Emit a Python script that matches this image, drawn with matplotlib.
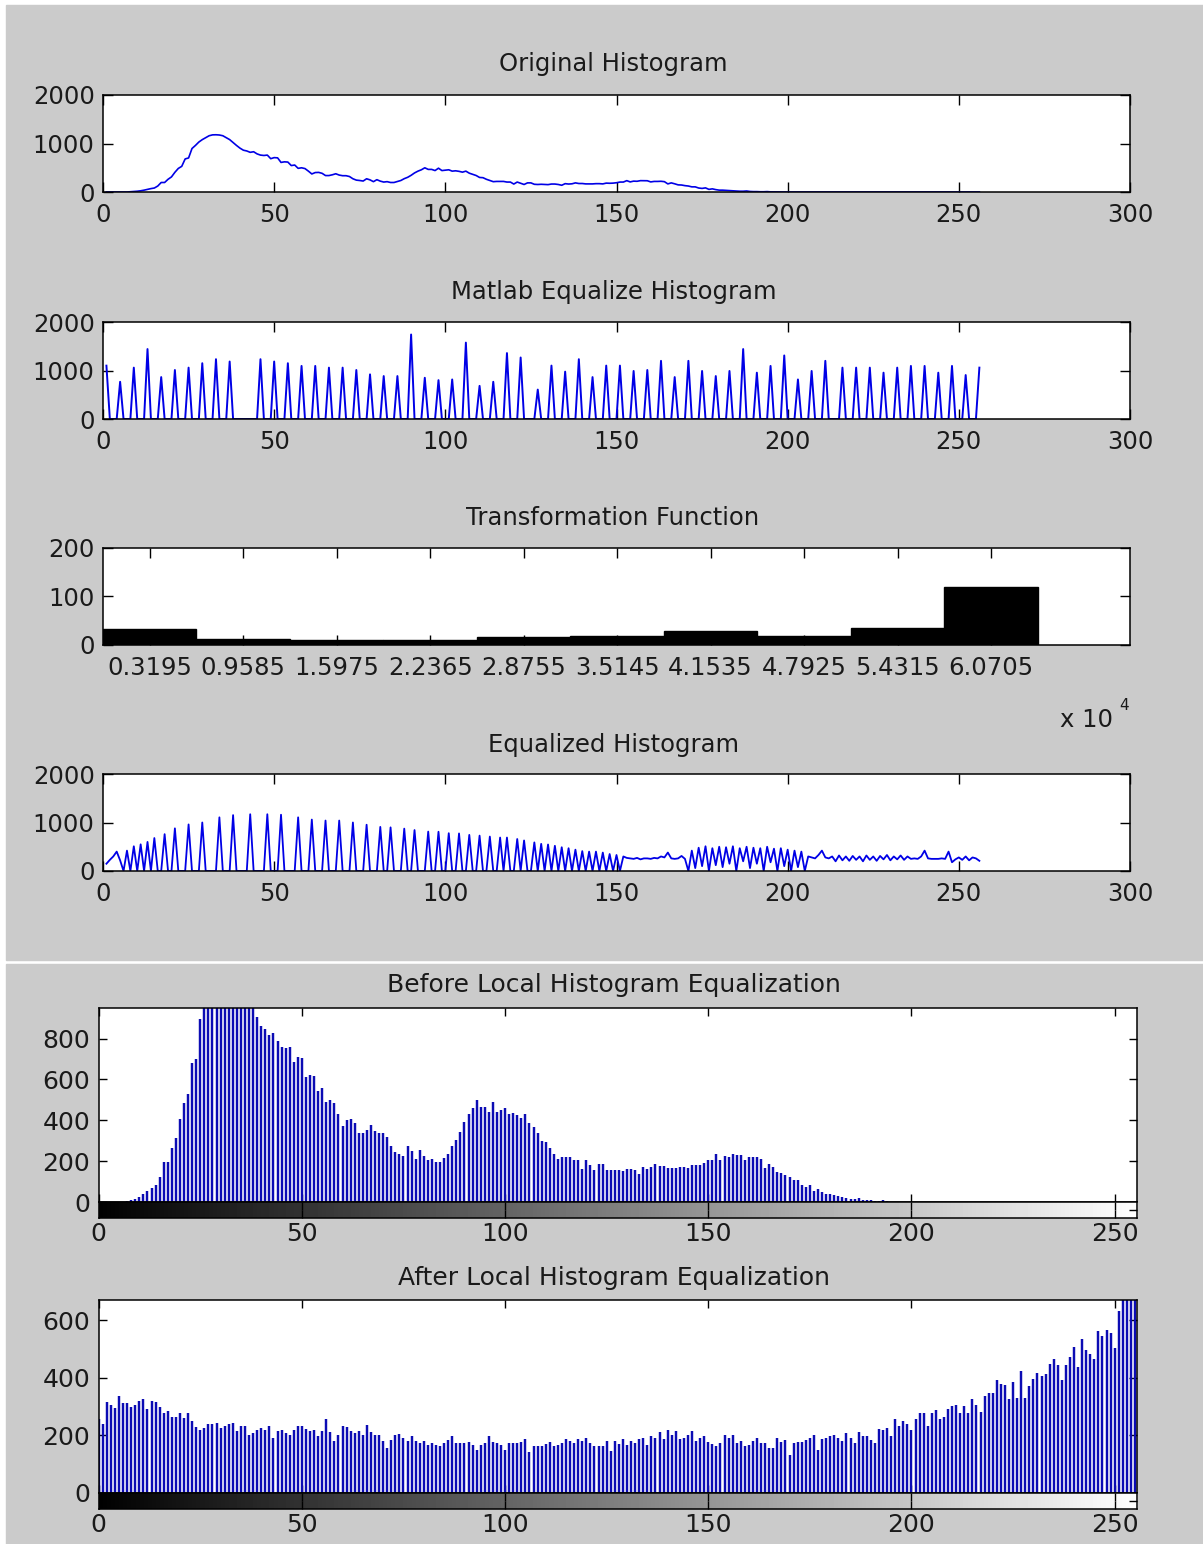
import numpy as np
import matplotlib.pyplot as plt
from matplotlib.patches import Rectangle

W, H = 1203, 1544
plt.rcParams['font.family'] = ['DejaVu Sans']

# counts per gray level 0..255 of the input image
orig_counts = [
    0, 0, 0, 0, 0, 0, 0, 5,
    11, 16, 25, 38, 54, 70, 82, 123,
    196, 196, 262, 311, 406, 486, 529, 682,
    702, 897, 960, 1030, 1080, 1120, 1160, 1178,
    1180, 1175, 1160, 1120, 1080, 1020, 960, 905,
    862, 846, 818, 830, 786, 761, 753, 761,
    687, 709, 704, 610, 622, 617, 545, 556,
    488, 499, 483, 430, 372, 401, 404, 385,
    339, 339, 355, 376, 349, 336, 336, 319,
    273, 245, 237, 226, 273, 250, 213, 254,
    224, 205, 213, 196, 196, 216, 237, 275,
    303, 344, 393, 430, 458, 499, 466, 466,
    442, 491, 442, 450, 458, 430, 437, 426,
    409, 430, 388, 365, 340, 300, 295, 262,
    237, 213, 218, 218, 218, 205, 205, 164,
    205, 180, 155, 188, 188, 159, 155, 159,
    155, 152, 164, 164, 155, 139, 172, 164,
    169, 188, 175, 175, 167, 167, 167, 172,
    172, 167, 183, 180, 183, 191, 205, 205,
    234, 208, 224, 221, 234, 232, 232, 208,
    218, 218, 221, 213, 167, 188, 169, 147,
    144, 131, 123, 106, 106, 82, 74, 85,
    54, 65, 49, 38, 38, 33, 28, 25,
    20, 16, 16, 21, 11, 8, 8, 5,
    5, 8, 3, 2, 2, 1, 1, 0,
] + [0] * 56

# histeq output: only these levels (1-based plot position) are populated
histeq_levels = [1, 5, 9, 13, 17, 21, 25, 29, 33, 37, 46, 50, 54, 58, 62, 66,
                 70, 74, 78, 82, 86, 90, 94, 98, 102, 106, 110, 114, 118, 122,
                 127, 131, 135, 139, 143, 147, 151, 155, 159, 163, 167, 171,
                 175, 179, 183, 187, 191, 195, 199, 203, 207, 211, 216, 220,
                 224, 228, 232, 236, 240, 244, 248, 252, 256]
histeq_counts = [1100, 767, 1059, 1442, 864, 1010, 1059, 1150, 1233, 1185, 1233,
                 1185, 1150, 1094, 1094, 1059, 1059, 1010, 920, 885, 885, 1742,
                 850, 801, 815, 1575, 683, 767, 1359, 1268, 606, 1101, 976, 1233,
                 864, 1101, 1101, 990, 1010, 1199, 864, 1199, 990, 885, 990, 1442,
                 955, 1094, 1310, 815, 990, 1199, 1059, 1059, 1059, 955, 1059,
                 1094, 1094, 955, 1094, 906, 1059]

# histogram of the transformation function (x in units of 1e4)
trans_centers = [0.3195, 0.9585, 1.5975, 2.2365, 2.8755, 3.5145, 4.1535, 4.7925, 5.4315, 6.0705]
trans_labels = ['0.3195', '0.9585', '1.5975', '2.2365', '2.8755', '3.5145', '4.1535', '4.7925', '5.4315', '6.0705']
trans_counts = [33, 12, 11, 11, 16, 19, 28, 19, 36, 120]

# own equalization result, positions 1..256
eq_counts = [
    150, 230, 300, 400, 220, 0, 420, 0,
    510, 0, 550, 0, 600, 0, 680, 0,
    0, 760, 0, 0, 880, 0, 0, 0,
    960, 0, 0, 0, 1000, 0, 0, 0,
    0, 1106, 0, 0, 0, 1152, 0, 0,
    0, 0, 1170, 0, 0, 0, 0, 1170,
    0, 0, 0, 1160, 0, 0, 0, 0,
    1106, 0, 0, 0, 1060, 0, 0, 0,
    1040, 0, 0, 0, 1040, 0, 0, 0,
    1000, 0, 0, 0, 954, 0, 0, 0,
    910, 0, 0, 900, 0, 0, 0, 874,
    0, 0, 845, 0, 0, 0, 813, 0,
    0, 810, 0, 0, 780, 0, 0, 775,
    0, 0, 745, 0, 0, 730, 0, 0,
    710, 0, 0, 690, 0, 690, 0, 0,
    660, 0, 630, 0, 0, 590, 0, 560,
    0, 547, 0, 520, 0, 490, 0, 470,
    0, 440, 0, 410, 0, 400, 0, 400,
    0, 380, 0, 350, 0, 330, 0, 300,
    270, 260, 250, 270, 240, 260, 260, 250,
    270, 260, 300, 280, 380, 260, 250, 260,
    310, 250, 0, 420, 60, 480, 100, 510,
    0, 470, 120, 500, 80, 490, 150, 510,
    0, 470, 200, 500, 60, 480, 150, 470,
    0, 500, 180, 460, 0, 470, 100, 440,
    0, 420, 80, 400, 0, 300, 280, 260,
    330, 420, 280, 260, 300, 200, 320, 220,
    300, 210, 310, 230, 300, 200, 320, 230,
    300, 210, 310, 240, 330, 220, 300, 240,
    320, 230, 300, 250, 260, 250, 300, 420,
    260, 250, 250, 250, 260, 250, 400, 180,
    240, 280, 230, 300, 220, 280, 260, 210,
]

# after local histogram equalization, levels 0..255
local_eq_counts = [
    258, 240, 316, 306, 296, 336, 313, 313,
    300, 306, 318, 325, 290, 319, 317, 300,
    276, 284, 264, 264, 278, 260, 278, 249,
    230, 218, 226, 238, 238, 244, 226, 232,
    238, 244, 215, 232, 232, 203, 209, 220,
    226, 218, 232, 191, 215, 220, 209, 203,
    220, 232, 232, 223, 215, 220, 197, 215,
    257, 211, 180, 200, 232, 230, 215, 209,
    215, 200, 237, 211, 203, 200, 180, 157,
    185, 203, 206, 190, 180, 197, 180, 174,
    180, 168, 174, 168, 162, 174, 185, 197,
    174, 172, 172, 176, 165, 151, 168, 172,
    197, 176, 172, 165, 151, 172, 172, 174,
    176, 186, 141, 162, 162, 162, 170, 176,
    162, 168, 174, 186, 180, 172, 186, 180,
    191, 175, 162, 162, 162, 180, 145, 180,
    170, 186, 168, 180, 175, 186, 191, 168,
    197, 190, 211, 186, 220, 200, 215, 186,
    191, 200, 215, 180, 190, 197, 176, 170,
    162, 174, 203, 190, 203, 172, 180, 162,
    168, 180, 191, 172, 172, 157, 157, 191,
    176, 183, 133, 174, 176, 176, 185, 191,
    203, 151, 186, 191, 197, 203, 191, 180,
    209, 191, 174, 211, 197, 197, 185, 174,
    223, 220, 226, 197, 258, 232, 249, 241,
    218, 258, 276, 278, 232, 276, 288, 258,
    264, 292, 302, 304, 278, 302, 276, 325,
    307, 281, 336, 346, 346, 392, 380, 374,
    325, 385, 331, 423, 331, 371, 397, 415,
    406, 412, 447, 464, 443, 392, 443, 473,
    508, 439, 534, 497, 481, 464, 563, 545,
    566, 555, 505, 632, 700, 720, 740, 760,
]

GRAY = '#cbcbcb'
LINE_BLUE = '#0000e6'
BAR_BLUE = '#0c0cb4'
TXT = '#1a1a1a'


def box(left, top, right, bottom):
    return [left / W, 1 - bottom / H, (right - left) / W, (bottom - top) / H]


def px_text(x, y, s, **kw):
    fig.text(x / W, 1 - y / H, s, ha='center', va='center', **kw)


def style(ax, fs, xpad, ypad, length=7):
    ax.set_facecolor('white')
    ax.tick_params(direction='in', top=True, right=True, length=length, width=1,
                   labelsize=fs, colors='black', labelcolor=TXT)
    ax.tick_params(axis='x', pad=xpad)
    ax.tick_params(axis='y', pad=ypad)
    for s in ax.spines.values():
        s.set_linewidth(1.1)


fig = plt.figure(figsize=(W / 100, H / 100), dpi=100, facecolor='white')
fig.patches.append(Rectangle((6 / W, 1 - 960 / H), 1 - 6 / W, (960 - 5) / H,
                             transform=fig.transFigure, color=GRAY, zorder=-10))
fig.patches.append(Rectangle((6 / W, 0), 1 - 6 / W, (H - 964) / H,
                             transform=fig.transFigure, color=GRAY, zorder=-10))

TOP_FS = 17.5
xs = np.arange(1, 257)

# Original histogram
ax1 = fig.add_axes(box(103, 95, 1130, 192))
ax1.plot(xs, orig_counts, color=LINE_BLUE, lw=1.2)
ax1.set_xlim(0, 300)
ax1.set_ylim(0, 2000)
ax1.set_xticks(range(0, 301, 50))
ax1.set_yticks([0, 1000, 2000])
style(ax1, TOP_FS, 8, 6)
px_text(613, 64, 'Original Histogram', fontsize=TOP_FS, color=TXT)

# MATLAB histeq result
histeq_full = np.zeros(256)
histeq_full[np.array(histeq_levels) - 1] = histeq_counts
ax2 = fig.add_axes(box(103, 322, 1130, 419))
ax2.plot(xs, histeq_full, color=LINE_BLUE, lw=1.4)
ax2.set_xlim(0, 300)
ax2.set_ylim(0, 2000)
ax2.set_xticks(range(0, 301, 50))
ax2.set_yticks([0, 1000, 2000])
style(ax2, TOP_FS, 8, 6)
px_text(614, 292, 'Matlab Equalize Histogram', fontsize=TOP_FS, color=TXT)

# Transformation function histogram
ax3 = fig.add_axes(box(103, 548, 1130, 645))
ax3.bar(trans_centers, trans_counts, width=0.639, color='black', edgecolor='black')
ax3.set_xlim(0, 7.02)
ax3.set_ylim(0, 200)
ax3.set_xticks(trans_centers)
ax3.set_xticklabels(trans_labels)
ax3.set_yticks([0, 100, 200])
style(ax3, TOP_FS, 8, 6)
px_text(613, 518, 'Transformation Function', fontsize=TOP_FS, color=TXT)
px_text(1087, 720, 'x 10', fontsize=TOP_FS, color=TXT)
px_text(1124, 705, '4', fontsize=11, color=TXT)

# Equalized histogram
ax4 = fig.add_axes(box(103, 774, 1130, 871))
ax4.plot(xs, eq_counts, color=LINE_BLUE, lw=1.3)
ax4.set_xlim(0, 300)
ax4.set_ylim(0, 2000)
ax4.set_xticks(range(0, 301, 50))
ax4.set_yticks([0, 1000, 2000])
style(ax4, TOP_FS, 8, 6)
px_text(614, 745, 'Equalized Histogram', fontsize=TOP_FS, color=TXT)

# local equalization figure
BOT_FS = 18
levels = np.arange(256)
gradient = np.linspace(0, 1, 256)[None, :]


def local_panel(top, bottom, counts, ymax, yticks, title, title_y):
    ax = fig.add_axes(box(98.7, top, 1137, bottom))
    ax.vlines(levels, 0, counts, colors=BAR_BLUE, lw=1.75)
    ax.set_xlim(0, 255.5)
    ax.set_ylim(0, ymax)
    ax.set_xticks(range(0, 251, 50))
    ax.set_xticklabels([])
    ax.set_yticks(yticks)
    style(ax, BOT_FS, 5, 6, length=6)
    ax.tick_params(axis='x', bottom=True, top=True)

    cb = fig.add_axes(box(98.7, bottom, 1137, bottom + 16))
    cb.imshow(gradient, cmap='gray', aspect='auto', extent=[0, 255.5, 0, 1])
    cb.set_xlim(0, 255.5)
    cb.set_ylim(0, 1)
    cb.set_xticks(range(0, 251, 50))
    cb.set_yticks([0.5])
    cb.set_yticklabels([])
    style(cb, BOT_FS, 3, 6, length=6)
    cb.tick_params(axis='y', left=False, right=True)
    px_text(614, title_y, title, fontsize=BOT_FS, color=TXT)


local_panel(1008, 1202, orig_counts, 950, [0, 200, 400, 600, 800],
            'Before Local Histogram Equalization', 985)
local_panel(1300, 1493, local_eq_counts, 670, [0, 200, 400, 600],
            'After Local Histogram Equalization', 1278)

fig.savefig('out.png', dpi=100, facecolor=fig.get_facecolor())
